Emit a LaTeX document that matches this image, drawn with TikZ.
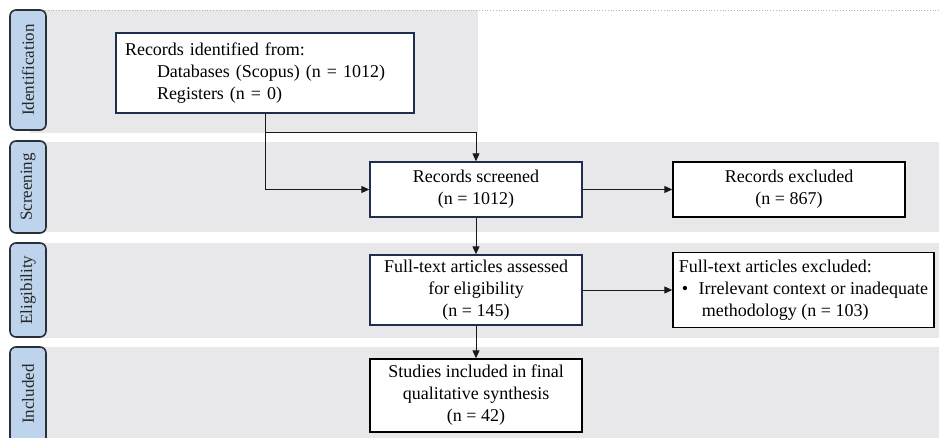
\documentclass[tikz,border=0pt]{standalone}
\usepackage{fontspec}
\setmainfont{Liberation Serif}
\usetikzlibrary{arrows.meta}
\definecolor{bandgray}{HTML}{E8E8EA}
\definecolor{labelblue}{HTML}{BDD4EC}
\definecolor{navy}{HTML}{1F2D4F}
\definecolor{labeledge}{HTML}{2A3038}
\tikzset{
  band/.style={fill=bandgray, draw=none},
  phase/.style={draw=labeledge, line width=1.6pt, fill=labelblue, rounded corners=6pt},
  phasetext/.style={rotate=90, font=\fontsize{17}{20}\selectfont, text=black!85},
  boxnavy/.style={draw=navy, line width=1.4pt, fill=white, inner sep=0pt, font=\fontsize{18}{22}\selectfont, align=center},
  boxblack/.style={draw=black, line width=1.4pt, fill=white, inner sep=0pt, font=\fontsize{18}{22}\selectfont, align=center},
  conn/.style={line width=1pt, draw=black!90},
  arr/.style={conn, -{Triangle[length=8pt,width=7pt]}}
}
\begin{document}
\begin{tikzpicture}[x=1pt,y=-1pt]
\useasboundingbox (0,0) rectangle (939,438);
\fill[white] (0,0) rectangle (939,438);
% bands
\fill[band] (30,10) rectangle (478,133);
\fill[band] (30,142) rectangle (939,232);
\fill[band] (30,243) rectangle (939,338);
\fill[band] (30,347) rectangle (939,438);
\draw[gray!60, line width=0.8pt, dotted] (45,10) -- (939,10);
% phase labels
\draw[phase] (10,10) rectangle (46,130);
\node[phasetext] (pid) at (28,70) {Identification};
\draw[phase] (10,141) rectangle (46,233);
\node[phasetext] (psc) at (28,187) {Screening};
\draw[phase] (10,243) rectangle (46,337);
\node[phasetext] (pel) at (28,290) {Eligibility};
\draw[phase] (10,347) rectangle (46,446);
\node[phasetext] (pin) at (28,394) {Included};
% boxes
\node[boxnavy, minimum width=298pt, minimum height=80pt, align=left, text width=280pt] (ident) at (265,73)
  {Records identified from:\\\hspace*{32pt}Databases (Scopus) (n = 1012)\\\hspace*{32pt}Registers (n = 0)};
\node[boxnavy, minimum width=212pt, minimum height=55pt] (screen) at (476,189.5)
  {Records screened\\(n = 1012)};
\node[boxblack, minimum width=232pt, minimum height=55pt] (excl) at (789,189.5)
  {Records excluded\\(n = 867)};
\node[boxnavy, minimum width=212pt, minimum height=70pt] (full) at (476,290)
  {Full-text articles assessed\\for eligibility\\(n = 145)};
\node[boxblack, minimum width=261pt, minimum height=75pt, align=left] (fexcl) at (803.5,290)
  {Full-text articles excluded:\\\hspace*{3pt}\textbullet\hspace{10.5pt}Irrelevant context or inadequate\\\hspace*{23pt}methodology (n = 103)};
\node[boxblack, minimum width=212pt, minimum height=73pt] (incl) at (476,395.5)
  {Studies included in final\\qualitative synthesis\\(n = 42)};
% connectors
\coordinate (split) at (265,133);
\draw[conn] (ident.south) -- (split);
\draw[arr] (split) -| (screen.north);
\draw[arr] (split) |- (screen.west);
\draw[arr] (screen.east) -- (excl.west);
\draw[arr] (screen.south) -- (full.north);
\draw[arr] (full.east) -- (full.east -| fexcl.west);
\draw[arr] (full.south) -- (incl.north);
\end{tikzpicture}
\end{document}
